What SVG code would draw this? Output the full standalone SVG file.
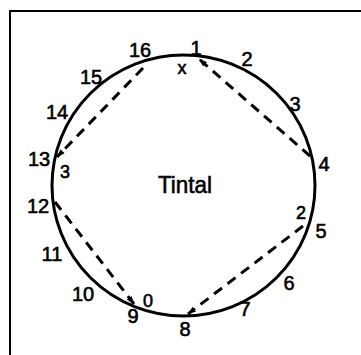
<svg xmlns="http://www.w3.org/2000/svg" width="361" height="355" viewBox="0 0 361 355">
<style>
.frame{fill:none;stroke:#000;stroke-width:2}
.ring{fill:none;stroke:#000;stroke-width:3}
.dash{fill:none;stroke:#000;stroke-width:3;stroke-dasharray:10 7}
.lbl{font-family:"Liberation Sans",Arial,sans-serif;font-size:20px;text-anchor:middle;fill:#000;stroke:#000;stroke-width:0.6}
.sm{font-size:18px}
.title{font-size:24px}
</style>
<defs>
<marker id="ah" viewBox="0 0 8 6" refX="8" refY="3" markerWidth="8" markerHeight="6" markerUnits="userSpaceOnUse" orient="auto">
<path d="M0,0 L8,3 L0,6 z" fill="#000"/>
</marker>
</defs>
<g id="frame">
<path class="frame" d="M10,355 L10,11 L361,11"/>
</g>
<g id="circle">
<ellipse class="ring" cx="183.5" cy="185.5" rx="131.5" ry="130.5"/>
</g>
<g id="connectors">
<path class="dash" d="M143,68 L57,157" marker-end="url(#ah)"/>
<path class="dash" d="M310,156 L199,59" marker-end="url(#ah)"/>
<path class="dash" d="M55,202 L134,304" marker-end="url(#ah)"/>
<path class="dash" d="M303,226 L188,314" marker-end="url(#ah)"/>
</g>
<g id="labels">
<text class="lbl" x="140" y="57">16</text>
<text class="lbl" x="196" y="55">1</text>
<text class="lbl sm" x="182" y="74">x</text>
<text class="lbl" x="247" y="66">2</text>
<text class="lbl" x="295" y="111">3</text>
<text class="lbl" x="324" y="171">4</text>
<text class="lbl sm" x="301" y="219">2</text>
<text class="lbl" x="321" y="238">5</text>
<text class="lbl" x="289" y="290">6</text>
<text class="lbl" x="245" y="316">7</text>
<text class="lbl" x="185" y="336">8</text>
<text class="lbl" x="133" y="323">9</text>
<text class="lbl sm" x="148" y="307">0</text>
<text class="lbl" x="83" y="301">10</text>
<text class="lbl" x="52" y="261">11</text>
<text class="lbl" x="38" y="213">12</text>
<text class="lbl" x="39" y="166">13</text>
<text class="lbl sm" x="65" y="178">3</text>
<text class="lbl" x="57" y="119">14</text>
<text class="lbl" x="91" y="84">15</text>
<text class="lbl title" x="185" y="193" textLength="54" lengthAdjust="spacingAndGlyphs">Tintal</text>
</g>
</svg>
